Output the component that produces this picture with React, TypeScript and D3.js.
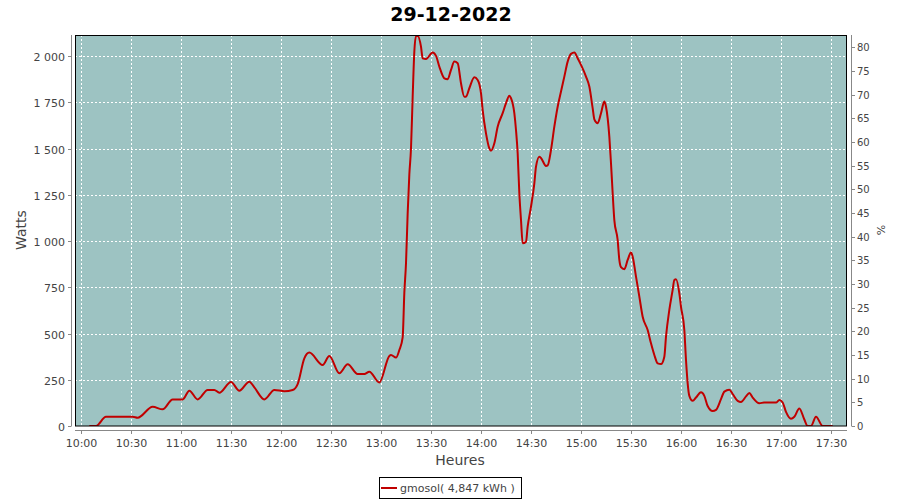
import React from "react";
import * as d3 from "d3";

const chartTitle = "29-12-2022";
const seriesName = "gmosol( 4,847 kWh )";
const xAxisLabel = "Heures";
const yAxisLabel = "Watts";
const y2AxisLabel = "%";

const times = [
  "10:05","10:09","10:15","10:31","10:34","10:43","10:49","10:55","11:01","11:05",
  "11:10","11:16","11:20","11:23","11:30","11:35","11:41","11:44","11:50","11:56",
  "12:02","12:07","12:10","12:14","12:17","12:25","12:29","12:35","12:40","12:46",
  "12:50","12:53","12:59","13:05","13:06","13:09","13:11","13:13","13:14","13:15",
  "13:16","13:17","13:18","13:19","13:20","13:21","13:22","13:24","13:25","13:27",
  "13:31","13:33","13:35","13:38","13:40","13:42","13:44","13:46","13:48","13:50",
  "13:51","13:53","13:56","13:58","14:00","14:01","14:03","14:05","14:06","14:08",
  "14:10","14:13","14:15","14:17","14:18","14:20","14:21","14:22","14:23","14:24",
  "14:25","14:27","14:28","14:30","14:32","14:33","14:35","14:36","14:39","14:40",
  "14:42","14:44","14:46","14:48","14:50","14:52","14:54","14:56","14:58","15:00",
  "15:03","15:05","15:07","15:08","15:10","15:12","15:14","15:15","15:17","15:18",
  "15:19","15:20","15:22","15:23","15:24","15:26","15:28","15:30","15:31","15:33",
  "15:35","15:37","15:40","15:42","15:44","15:46","15:48","15:50","15:51","15:53",
  "15:55","15:56","15:57","15:59","16:00","16:02","16:03","16:04","16:05","16:07",
  "16:09","16:12","16:14","16:16","16:19","16:21","16:24","16:26","16:29","16:31",
  "16:34","16:36","16:39","16:41","16:43","16:47","16:50","16:57","16:59","17:01",
  "17:03","17:06","17:08","17:11","17:14","17:16","17:18","17:21","17:25","17:31"
];

const watts = [
  0,0,50,50,45,104,90,144,144,191,
  144,195,195,180,238,191,240,209,144,195,
  188,195,227,366,397,330,379,285,334,281,
  281,294,235,379,384,370,411,480,720,880,
  1150,1360,1502,1780,2025,2110,2110,2052,1989,1985,
  2020,2002,1944,1881,1876,1926,1971,1962,1854,1781,
  1781,1827,1886,1872,1800,1709,1583,1502,1489,1529,
  1619,1692,1746,1787,1773,1692,1601,1475,1259,1114,
  988,997,1078,1186,1313,1403,1457,1450,1407,1410,
  1493,1619,1727,1809,1890,1971,2013,2020,1989,1953,
  1890,1836,1719,1659,1638,1692,1755,1727,1565,1421,
  1259,1114,1006,898,859,848,898,938,916,808,
  700,591,519,447,384,339,335,375,483,628,
  736,790,794,718,645,519,357,231,163,136,
  154,182,163,108,81,87,145,186,196,173,
  136,130,160,179,154,123,127,127,140,127,
  76,39,50,95,35,0,0,50,0,0
];

const xTickLabels = [
  "10:00","10:30","11:00","11:30","12:00","12:30","13:00","13:30",
  "14:00","14:30","15:00","15:30","16:00","16:30","17:00","17:30"
];
const wattTicks = [0, 250, 500, 750, 1000, 1250, 1500, 1750, 2000];
const pctTicks = [0,5,10,15,20,25,30,35,40,45,50,55,60,65,70,75,80];

const xDomainStart = "09:56:24";
const xDomainEnd = "17:39:36";
const wattMax = 2115;
const fullScaleWatts = 2560;

const W = 900, H = 500;
const plot = { left: 75, right: 847, top: 35, bottom: 426 };
const FONT = "'DejaVu Sans', sans-serif";

export default function App() {
  const parseHM = d3.timeParse("%H:%M");
  const parseHMS = d3.timeParse("%H:%M:%S");
  const x = d3.scaleTime()
    .domain([parseHMS(xDomainStart)!, parseHMS(xDomainEnd)!])
    .range([plot.left, plot.right]);
  const y = d3.scaleLinear().domain([0, wattMax]).range([plot.bottom, plot.top]);
  const y2 = d3.scaleLinear()
    .domain([0, (wattMax / fullScaleWatts) * 100])
    .range([plot.bottom, plot.top]);

  const fr = d3.formatLocale({ decimal: ",", thousands: " ", grouping: [3], currency: ["", ""] });
  const fmt = fr.format(",d");

  const data = times.map((t, i) => ({ t: parseHM(t)!, v: watts[i] }));
  const line = d3.line<{ t: Date; v: number }>()
    .x(d => x(d.t))
    .y(d => y(d.v))
    .curve(d3.curveMonotoneX);

  const xTicks = xTickLabels.map(l => ({ l, px: Math.round(x(parseHM(l)!)) + 0.5 }));
  const axisColor = "#888888";
  const textColor = "#444444";

  return (
    <svg width={W} height={H} style={{ position: "absolute", left: 0, top: 0, background: "#fff" }}
      fontFamily={FONT}>
      <defs>
        <clipPath id="plotClip">
          <rect x={plot.left} y={plot.top} width={plot.right - plot.left} height={plot.bottom - plot.top} />
        </clipPath>
      </defs>
      <rect x={0} y={0} width={W} height={H} fill="#ffffff" />
      <text x={451} y={21} textAnchor="middle" fontSize={19} fontWeight="bold" fill="#000">{chartTitle}</text>

      <rect x={plot.left} y={plot.top} width={plot.right - plot.left} height={plot.bottom - plot.top} fill="#9dc3c2" />

      {/* grid */}
      {xTicks.map(d => (
        <line key={"gx" + d.l} x1={d.px} x2={d.px} y1={plot.top} y2={plot.bottom}
          stroke="#ffffff" strokeWidth={1} strokeDasharray="2,2" />
      ))}
      {wattTicks.map(v => {
        const py = Math.round(y(v)) + 0.5;
        return (
          <line key={"gy" + v} x1={plot.left} x2={plot.right} y1={py} y2={py}
            stroke="#ffffff" strokeWidth={1} strokeDasharray="2,2" />
        );
      })}

      <path d={line(data) || ""} fill="none" stroke="#c00000" strokeWidth={2} clipPath="url(#plotClip)" strokeLinejoin="round" />

      <rect x={plot.left + 0.5} y={plot.top + 0.5} width={plot.right - plot.left - 1} height={plot.bottom - plot.top - 0.5}
        fill="none" stroke="#000000" strokeWidth={1} />

      {/* left axis */}
      <line x1={71.5} x2={71.5} y1={plot.top} y2={plot.bottom} stroke={axisColor} strokeWidth={1} />
      {wattTicks.map(v => {
        const py = Math.round(y(v)) + 0.5;
        return (
          <g key={"ly" + v}>
            <line x1={68} x2={71.5} y1={py} y2={py} stroke={axisColor} strokeWidth={1} />
            <text x={65} y={py + 4} textAnchor="end" fontSize={11} fill={textColor}>{fmt(v)}</text>
          </g>
        );
      })}
      <text transform="translate(26,230) rotate(-90)" textAnchor="middle" fontSize={14} fill={textColor}>{yAxisLabel}</text>

      {/* right axis */}
      <line x1={851.5} x2={851.5} y1={plot.top} y2={plot.bottom} stroke={axisColor} strokeWidth={1} />
      {pctTicks.map(v => {
        const py = Math.round(y2(v)) + 0.5;
        return (
          <g key={"ry" + v}>
            <line x1={851.5} x2={855} y1={py} y2={py} stroke={axisColor} strokeWidth={1} />
            <text x={857} y={py + 3.5} textAnchor="start" fontSize={10} fill={textColor}>{v}</text>
          </g>
        );
      })}
      <text transform="translate(885,230) rotate(-90)" textAnchor="middle" fontSize={11} fill={textColor}>{y2AxisLabel}</text>

      {/* x axis */}
      <line x1={plot.left} x2={plot.right} y1={430.5} y2={430.5} stroke={axisColor} strokeWidth={1} />
      {xTicks.map(d => (
        <g key={"tx" + d.l}>
          <line x1={d.px} x2={d.px} y1={430.5} y2={434} stroke={axisColor} strokeWidth={1} />
          <text x={d.px} y={447} textAnchor="middle" fontSize={11} fill={textColor}>{d.l}</text>
        </g>
      ))}
      <text x={460} y={465} textAnchor="middle" fontSize={14} fill={textColor}>{xAxisLabel}</text>

      {/* legend */}
      <rect x={379.5} y={477.5} width={142} height={21} fill="#ffffff" stroke="#000000" strokeWidth={1} />
      <line x1={381} x2={397} y1={488} y2={488} stroke="#c00000" strokeWidth={2} />
      <text x={400} y={492} fontSize={11} fill={textColor}>{seriesName}</text>
    </svg>
  );
}
